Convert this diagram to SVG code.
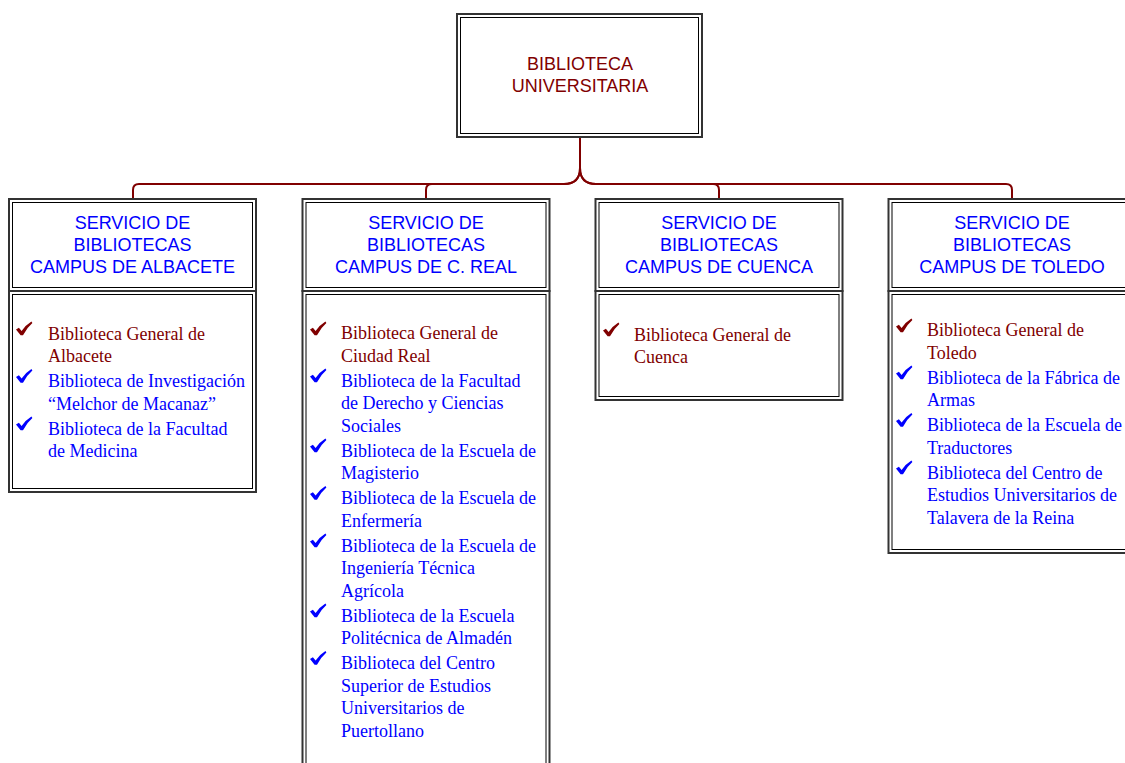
<svg xmlns="http://www.w3.org/2000/svg" xmlns:xlink="http://www.w3.org/1999/xlink" width="1125" height="763" viewBox="0 0 1125 763">
<style>
.outer{fill:#fff;stroke:#333;stroke-width:2}
.inner{fill:none;stroke:#000;stroke-width:1}
.title{font-family:"Liberation Sans",Arial,sans-serif;font-size:18px;fill:#800000;text-anchor:middle}
.head{font-family:"Liberation Sans",Arial,sans-serif;font-size:18px;fill:#0000ff;text-anchor:middle}
.item{font-family:"Liberation Serif","Times New Roman",serif;font-size:18px}
.red{fill:#800000}
.blue{fill:#0000ff}
.conn{fill:none;stroke:#800000;stroke-width:2}
</style>
<defs>
<path id="chk" d="M0,8 L2.9,6.2 L5.6,9.6 Q9.5,3.6 15.4,0 L16.4,1.6 Q11,6.2 7,13.8 L4.6,13.8 Z"/>
</defs>

<g id="connectors">
<path class="conn" d="M580,137 V168 Q580,184 564,184 H139 Q133,184 133,190 V199"/>
<path class="conn" d="M580,137 V168 Q580,184 564,184 H432 Q426,184 426,190 V199"/>
<path class="conn" d="M580,137 V168 Q580,184 596,184 H713 Q719,184 719,190 V199"/>
<path class="conn" d="M580,137 V168 Q580,184 596,184 H1006 Q1012,184 1012,190 V199"/>
</g>

<g id="root">
<rect class="outer" x="457" y="14" width="245" height="123"/>
<rect class="inner" x="460.5" y="17.5" width="238" height="116"/>
<text class="title" x="580" y="70">BIBLIOTECA</text>
<text class="title" x="580" y="92">UNIVERSITARIA</text>
</g>

<g id="albacete">
<rect class="outer" x="9" y="199" width="247" height="92"/>
<rect class="inner" x="12.5" y="202.5" width="240" height="85"/>
<text class="head" x="132.5" y="229">SERVICIO DE</text>
<text class="head" x="132.5" y="251">BIBLIOTECAS</text>
<text class="head" x="132.5" y="272.5">CAMPUS DE ALBACETE</text>
<rect class="outer" x="9" y="291" width="247" height="201"/>
<rect class="inner" x="12.5" y="294.5" width="240" height="194"/>
<use xlink:href="#chk" class="red" x="16" y="321.5"/>
<text class="item red" x="48"><tspan x="48" y="339.5">Biblioteca General de</tspan><tspan x="48" y="362">Albacete</tspan></text>
<use xlink:href="#chk" class="blue" x="16" y="369"/>
<text class="item blue" x="48"><tspan x="48" y="387">Biblioteca de Investigación</tspan><tspan x="48" y="409.5">“Melchor de Macanaz”</tspan></text>
<use xlink:href="#chk" class="blue" x="16" y="416.5"/>
<text class="item blue" x="48"><tspan x="48" y="434.5">Biblioteca de la Facultad</tspan><tspan x="48" y="457">de Medicina</tspan></text>
</g>

<g id="ciudadreal">
<rect class="outer" x="302.5" y="199" width="247" height="92"/>
<rect class="inner" x="306" y="202.5" width="240" height="85"/>
<text class="head" x="426" y="229">SERVICIO DE</text>
<text class="head" x="426" y="251">BIBLIOTECAS</text>
<text class="head" x="426" y="272.5">CAMPUS DE C. REAL</text>
<rect class="outer" x="302.5" y="291" width="247" height="490"/>
<rect class="inner" x="306" y="294.5" width="240" height="490"/>
<use xlink:href="#chk" class="red" x="310" y="321.5"/>
<text class="item red"><tspan x="341" y="339">Biblioteca General de</tspan><tspan x="341" y="361.5">Ciudad Real</tspan></text>
<use xlink:href="#chk" class="blue" x="310" y="368.5"/>
<text class="item blue"><tspan x="341" y="386.5">Biblioteca de la Facultad</tspan><tspan x="341" y="409">de Derecho y Ciencias</tspan><tspan x="341" y="431.5">Sociales</tspan></text>
<use xlink:href="#chk" class="blue" x="310" y="438.5"/>
<text class="item blue"><tspan x="341" y="456.5">Biblioteca de la Escuela de</tspan><tspan x="341" y="479">Magisterio</tspan></text>
<use xlink:href="#chk" class="blue" x="310" y="486"/>
<text class="item blue"><tspan x="341" y="504">Biblioteca de la Escuela de</tspan><tspan x="341" y="526.5">Enfermería</tspan></text>
<use xlink:href="#chk" class="blue" x="310" y="533.5"/>
<text class="item blue"><tspan x="341" y="551.5">Biblioteca de la Escuela de</tspan><tspan x="341" y="574">Ingeniería Técnica</tspan><tspan x="341" y="596.5">Agrícola</tspan></text>
<use xlink:href="#chk" class="blue" x="310" y="603.5"/>
<text class="item blue"><tspan x="341" y="621.5">Biblioteca de la Escuela</tspan><tspan x="341" y="644">Politécnica de Almadén</tspan></text>
<use xlink:href="#chk" class="blue" x="310" y="651"/>
<text class="item blue"><tspan x="341" y="669">Biblioteca del Centro</tspan><tspan x="341" y="691.5">Superior de Estudios</tspan><tspan x="341" y="714">Universitarios de</tspan><tspan x="341" y="736.5">Puertollano</tspan></text>
</g>

<g id="cuenca">
<rect class="outer" x="595.5" y="199" width="247" height="92"/>
<rect class="inner" x="599" y="202.5" width="240" height="85"/>
<text class="head" x="719" y="229">SERVICIO DE</text>
<text class="head" x="719" y="251">BIBLIOTECAS</text>
<text class="head" x="719" y="272.5">CAMPUS DE CUENCA</text>
<rect class="outer" x="595.5" y="291" width="247" height="109"/>
<rect class="inner" x="599" y="294.5" width="240" height="102"/>
<use xlink:href="#chk" class="red" x="603" y="322.5"/>
<text class="item red"><tspan x="634" y="340.5">Biblioteca General de</tspan><tspan x="634" y="363">Cuenca</tspan></text>
</g>

<g id="toledo">
<rect class="outer" x="888.5" y="199" width="247" height="92"/>
<rect class="inner" x="892" y="202.5" width="240" height="85"/>
<text class="head" x="1012" y="229">SERVICIO DE</text>
<text class="head" x="1012" y="251">BIBLIOTECAS</text>
<text class="head" x="1012" y="272.5">CAMPUS DE TOLEDO</text>
<rect class="outer" x="888.5" y="291" width="247" height="262"/>
<rect class="inner" x="892" y="294.5" width="240" height="255"/>
<use xlink:href="#chk" class="red" x="896" y="318.5"/>
<text class="item red"><tspan x="927" y="336">Biblioteca General de</tspan><tspan x="927" y="358.5">Toledo</tspan></text>
<use xlink:href="#chk" class="blue" x="896" y="365.5"/>
<text class="item blue"><tspan x="927" y="383.5">Biblioteca de la Fábrica de</tspan><tspan x="927" y="406">Armas</tspan></text>
<use xlink:href="#chk" class="blue" x="896" y="413"/>
<text class="item blue"><tspan x="927" y="431">Biblioteca de la Escuela de</tspan><tspan x="927" y="453.5">Traductores</tspan></text>
<use xlink:href="#chk" class="blue" x="896" y="460.5"/>
<text class="item blue"><tspan x="927" y="478.5">Biblioteca del Centro de</tspan><tspan x="927" y="501">Estudios Universitarios de</tspan><tspan x="927" y="523.5">Talavera de la Reina</tspan></text>
</g>
</svg>
